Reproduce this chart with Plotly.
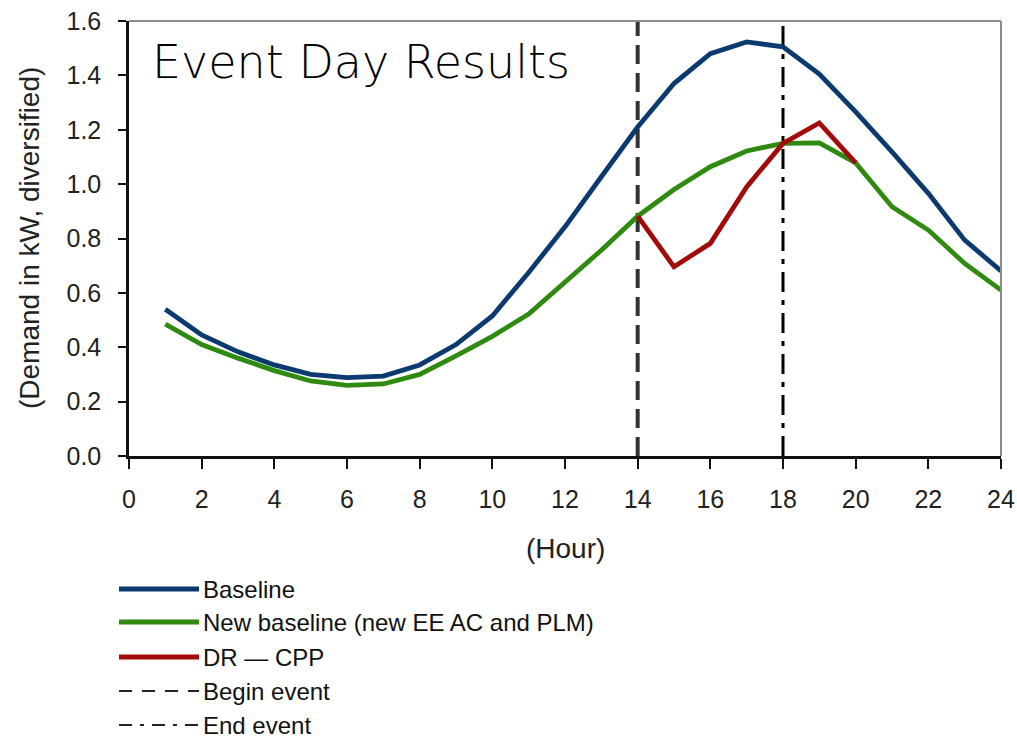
import plotly.graph_objects as go

# Hourly demand (kW, diversified) on the event day
hours = list(range(1, 25))
baseline = [0.540, 0.445, 0.383, 0.335, 0.300, 0.288, 0.294, 0.335, 0.410, 0.515,
            0.675, 0.843, 1.027, 1.210, 1.370, 1.480, 1.523, 1.505, 1.405, 1.266,
            1.119, 0.966, 0.794, 0.681]
new_baseline = [0.485, 0.410, 0.360, 0.314, 0.276, 0.260, 0.265, 0.300, 0.368, 0.440,
                0.522, 0.641, 0.757, 0.882, 0.980, 1.064, 1.122, 1.150, 1.152, 1.078,
                0.917, 0.831, 0.708, 0.610]
dr_hours = [14, 15, 16, 17, 18, 19, 20]
dr_cpp = [0.882, 0.696, 0.782, 0.990, 1.150, 1.225, 1.078]

event_begin = 14
event_end = 18
y_max = 1.6

x_ticks = list(range(0, 25, 2))
y_ticks = [0.0, 0.2, 0.4, 0.6, 0.8, 1.0, 1.2, 1.4, 1.6]

BLUE = "#0b3a70"
GREEN = "#2f8a10"
RED = "#a30a0a"

series = [
    ("Baseline", hours, baseline, BLUE),
    ("New baseline (new EE AC and PLM)", hours, new_baseline, GREEN),
    ("DR \u2014 CPP", dr_hours, dr_cpp, RED),
]

fig = go.Figure()

# event markers
fig.add_trace(go.Scatter(x=[event_begin, event_begin], y=[0, y_max], mode="lines",
                         name="Begin event", showlegend=False,
                         line=dict(color="#333333", width=4, dash="19px,9px")))
fig.add_trace(go.Scatter(x=[event_end, event_end], y=[0, y_max], mode="lines",
                         name="End event", showlegend=False,
                         line=dict(color="#000000", width=3, dash="20px,8px,5px,8px")))

for name, xs, ys, col in series:
    fig.add_trace(go.Scatter(x=xs, y=ys, mode="lines", name=name, showlegend=False,
                             line=dict(color=col, width=4.8)))

# plot area geometry (pixels) used for the legend placed under the chart
W, H = 1017, 739
L, R, T, B = 129, 16, 21, 283
pw, ph = W - L - R, H - T - B


def px_x(x):
    return (x - L) / pw


def px_y(y):
    return (H - B - y) / ph


shapes = [
    # grey top and right frame
    dict(type="line", xref="paper", yref="paper", x0=0, x1=1, y0=1, y1=1,
         line=dict(color="#8c8c8c", width=2)),
    dict(type="line", xref="paper", yref="paper", x0=1, x1=1, y0=0, y1=1,
         line=dict(color="#8c8c8c", width=2)),
]

legend_rows = [
    ("Baseline", BLUE, 4.8, "solid"),
    ("New baseline (new EE AC and PLM)", GREEN, 4.8, "solid"),
    ("DR \u2014 CPP", RED, 4.8, "solid"),
    ("Begin event", "#222222", 2, "13px,10px"),
    ("End event", "#222222", 2, "13px,8px,4px,8px"),
]
row_y = [589, 622, 657, 691, 725]
annotations = []
for (label, col, w, dash), yy in zip(legend_rows, row_y):
    shapes.append(dict(type="line", xref="paper", yref="paper",
                       x0=px_x(119), x1=px_x(199), y0=px_y(yy), y1=px_y(yy),
                       line=dict(color=col, width=w, dash=dash)))
    annotations.append(dict(text=label, xref="paper", yref="paper",
                            x=px_x(201), y=px_y(yy), xanchor="left", yanchor="middle",
                            showarrow=False,
                            font=dict(family="Liberation Sans, Arial", size=24, color="#111111")))

annotations.append(dict(text="Event Day Results", xref="paper", yref="paper",
                        x=px_x(150), y=px_y(62), xanchor="left", yanchor="middle",
                        showarrow=False,
                        font=dict(family="DejaVu Sans", size=46, weight=200, color="#000000")))
annotations.append(dict(text="(Demand in kW, diversified)", xref="paper", yref="paper",
                        x=px_x(29), y=px_y(238), xanchor="center", yanchor="middle",
                        textangle=-90, showarrow=False,
                        font=dict(family="Liberation Sans, Arial", size=28, color="#222222")))
annotations.append(dict(text="(Hour)", xref="paper", yref="paper",
                        x=px_x(565), y=px_y(548), xanchor="center", yanchor="middle",
                        showarrow=False,
                        font=dict(family="Liberation Sans, Arial", size=28, color="#222222")))

fig.update_layout(
    width=W, height=H,
    margin=dict(l=L, r=R, t=T, b=B, autoexpand=False),
    paper_bgcolor="white", plot_bgcolor="white",
    showlegend=False,
    shapes=shapes,
    annotations=annotations,
    font=dict(family="Liberation Sans, Arial", color="#222222"),
)

fig.update_xaxes(range=[0, 24], tickvals=x_ticks, ticktext=[str(v) for v in x_ticks],
                 automargin=False,
                 showgrid=False, zeroline=False, showline=True, linecolor="#111111",
                 linewidth=2.5, ticks="outside", ticklen=10, tickwidth=2, tickcolor="#111111",
                 tickfont=dict(size=25, color="#222222"), ticklabelstandoff=9)
fig.update_yaxes(range=[0, y_max], tickvals=y_ticks, ticktext=[f"{v:.1f}" for v in y_ticks],
                 automargin=False,
                 showgrid=False, zeroline=False, showline=True, linecolor="#111111",
                 linewidth=2.5, ticks="outside", ticklen=8, tickwidth=2, tickcolor="#111111",
                 tickfont=dict(size=25, color="#222222"), ticklabelstandoff=12)

fig.write_html("out.html")
